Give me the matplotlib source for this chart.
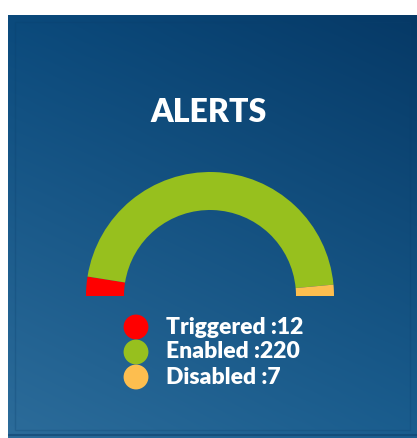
import numpy as np
import matplotlib.pyplot as plt
from matplotlib.patches import Rectangle

# alert counts shown in the gauge
labels = ['Triggered', 'Enabled', 'Disabled']
counts = [12, 220, 7]
colors = ['#ff0000', '#97c01e', '#fdbe4f']
title = 'ALERTS'

W, H = 417, 438
fig = plt.figure(figsize=(W / 100, H / 100), dpi=100)
fig.patch.set_facecolor('white')

# -- panel background with diagonal gradient -- #
px0, py0 = 8, 15  # panel top-left in pixels
bg = fig.add_axes([px0 / W, 0, (W - px0) / W, (H - py0) / H])
ny, nx = 200, 200
yy, xx = np.mgrid[0:1:ny * 1j, 0:1:nx * 1j]
tl = np.array([0x0b, 0x4a, 0x7c]) / 255
tr = np.array([0x06, 0x39, 0x66]) / 255
bl = np.array([0x2c, 0x6c, 0x9a]) / 255
br = np.array([0x1a, 0x5d, 0x8e]) / 255
grad = (tl * ((1 - xx) * (1 - yy))[..., None] + tr * (xx * (1 - yy))[..., None]
        + bl * ((1 - xx) * yy)[..., None] + br * (xx * yy)[..., None])
bg.imshow(grad, aspect='auto', extent=[0, 1, 1, 0], interpolation='bilinear')
bg.set_xlim(0, 1)
bg.set_ylim(1, 0)
bg.add_patch(Rectangle((0.018, 0.016), 0.964, 0.965, fill=False,
                       edgecolor='#0a3f6c', lw=1, alpha=0.25))
bg.axhline(0.994, color='#0d416e', lw=1.5, alpha=0.6)
bg.axis('off')

# -- semi-donut gauge -- #
cx, cy, r = 210, 296, 124
gauge = fig.add_axes([(cx - r) / W, (H - cy - r) / H, 2 * r / W, 2 * r / H])
vals = counts + [sum(counts)]  # hidden lower half
wedges, _ = gauge.pie(vals, colors=colors + ['none'], startangle=180,
                      counterclock=False, radius=1,
                      wedgeprops=dict(width=38 / r, edgecolor='none'))
wedges[-1].set_visible(False)
gauge.set_xlim(-1, 1)
gauge.set_ylim(-1, 1)
gauge.axis('off')

# -- title and legend in pixel coordinates -- #
ov = fig.add_axes([0, 0, 1, 1])
ov.set_xlim(0, W)
ov.set_ylim(H, 0)
ov.axis('off')
ov.text(209, 112, title, color='white', fontsize=23, fontweight='heavy',
        family='Lato', ha='center', va='center')

ys = [327, 352, 377]
ov.scatter([136] * len(ys), ys, s=320, c=colors, edgecolors='none')
for lab, n, y in zip(labels, counts, ys):
    ov.text(166, y, f'{lab} :{n}', color='white', fontsize=16.5, fontweight='heavy',
            family='Lato', ha='left', va='center')

fig.savefig('out.png', dpi=100, facecolor='white')
plt.close(fig)
